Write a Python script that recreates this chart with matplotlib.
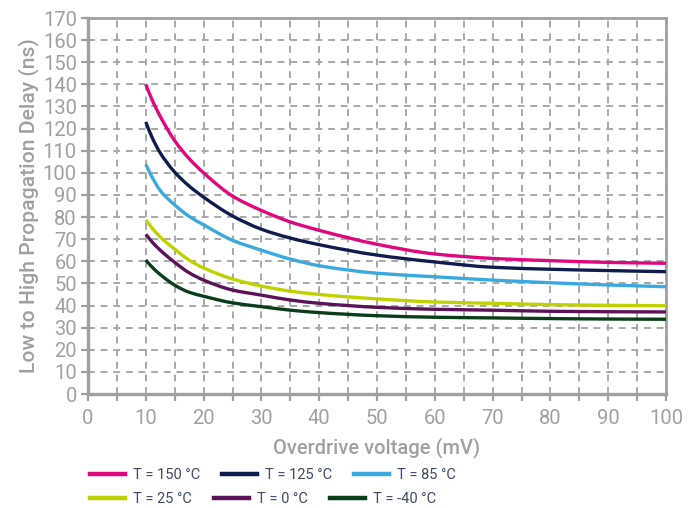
import matplotlib
matplotlib.use("Agg")
import matplotlib.pyplot as plt
import numpy as np
from matplotlib.lines import Line2D
from matplotlib.path import Path
from matplotlib.patches import PathPatch

plt.rcParams['font.family'] = ['Roboto', 'DejaVu Sans']

# Overdrive voltage (mV)
overdrive = [10, 11, 12.5, 15, 17.5, 20, 25, 30, 35, 40, 50, 60, 70, 80, 90, 100]

# Low to high propagation delay (ns) per temperature
delay_150 = [140, 133.5, 125.5, 114.5, 106.4, 100, 89.5, 83, 77.8, 74, 67.7, 63.3, 61.3, 60.3, 59.5, 59.1]
delay_125 = [123, 116.5, 109, 100.3, 94, 89, 80.5, 74.5, 70.5, 67.5, 62.8, 59.7, 57.3, 56.4, 55.8, 55.3]
delay_85 = [103.8, 98.5, 92, 85.5, 80.3, 76.5, 69.5, 65, 61, 58, 54.6, 53, 51.5, 50.3, 49.3, 48.5]
delay_25 = [78.7, 75.3, 71, 65.5, 60.5, 57, 52, 48.8, 46.5, 45, 43, 41.6, 41, 40.4, 40.1, 39.9]
delay_0 = [72.2, 69, 65, 59.5, 54.8, 51.5, 47, 44.7, 42.5, 41, 39.2, 38.3, 37.9, 37.4, 37.2, 37.1]
delay_m40 = [60.6, 57.6, 54, 49.2, 46, 44.2, 41.2, 39.5, 37.9, 36.8, 35.4, 34.7, 34.4, 34.1, 33.9, 33.8]

labels = ["T = 150 °C", "T = 125 °C", "T = 85 °C", "T = 25 °C", "T = 0 °C", "T = -40 °C"]
colors = ["#e0077d", "#0e1d4e", "#39a9df", "#c0d100", "#5c1259", "#0a3e18"]
series = [delay_150, delay_125, delay_85, delay_25, delay_0, delay_m40]

x_ticks = list(range(0, 101, 5))
x_ticklabels = [str(v) if v % 10 == 0 else "" for v in x_ticks]
y_ticks = list(range(0, 171, 10))

gray = "#a0a0a0"


def smooth_path(xs, ys):
    """Monotone cubic (Fritsch-Carlson) Bezier path through the data points."""
    x = np.asarray(xs, float)
    y = np.asarray(ys, float)
    h = np.diff(x)
    d = np.diff(y) / h
    n = len(x)
    m = np.zeros(n)
    m[0] = d[0]
    m[-1] = d[-1]
    for i in range(1, n - 1):
        if d[i - 1] * d[i] <= 0:
            m[i] = 0
        else:
            w1 = 2 * h[i] + h[i - 1]
            w2 = h[i] + 2 * h[i - 1]
            m[i] = (w1 + w2) / (w1 / d[i - 1] + w2 / d[i])
    verts = [(x[0], y[0])]
    codes = [Path.MOVETO]
    for i in range(n - 1):
        verts += [(x[i] + h[i] / 3, y[i] + m[i] * h[i] / 3),
                  (x[i + 1] - h[i] / 3, y[i + 1] - m[i + 1] * h[i] / 3),
                  (x[i + 1], y[i + 1])]
        codes += [Path.CURVE4] * 3
    return Path(verts, codes)


fig = plt.figure(figsize=(6.88, 5.08), dpi=100)
ax = fig.add_axes([88 / 688, 1 - 394 / 508, (666 - 88) / 688, (394 - 18) / 508])

for ys, c in zip(series[::-1], colors[::-1]):
    patch = PathPatch(smooth_path(overdrive, ys), facecolor='none', edgecolor=c,
                      lw=2.4, capstyle='butt', zorder=3, transform=ax.transData)
    ax.add_patch(patch)

ax.set_xlim(0, 100)
ax.set_ylim(0, 170)
ax.set_xticks(x_ticks)
ax.set_xticklabels(x_ticklabels)
ax.set_yticks(y_ticks)

ax.grid(True, color="#a8a8a8", linestyle=(0, (3.5, 3)), linewidth=1.4, zorder=1)
ax.set_axisbelow(True)

for side in ['left', 'bottom']:
    ax.spines[side].set_color(gray)
    ax.spines[side].set_linewidth(2.4)
for side in ['top', 'right']:
    ax.spines[side].set_color(gray)
    ax.spines[side].set_linewidth(2.0)

ax.tick_params(axis='both', colors=gray, labelcolor=gray, labelsize=14.5,
               width=1.6, length=5, direction='out')
ax.tick_params(axis='y', pad=3)
ax.tick_params(axis='x', pad=6)

ax.set_xlabel("Overdrive voltage (mV)", color=gray, fontsize=14.5,
              fontweight='medium', labelpad=6)
ax.set_ylabel("Low to High Propagation Delay (ns)", color=gray, fontsize=15.2,
              fontweight='medium', labelpad=3)

handles = [Line2D([0], [0], color=c, lw=3.2) for c in colors]
leg_kw = dict(frameon=False, ncol=3, fontsize=10.5, handlelength=2.4,
              handletextpad=0.55, columnspacing=1.5, borderpad=0,
              borderaxespad=0, loc='center left', labelcolor="#3d4a68")
leg1 = fig.legend(handles[:3], labels[:3], bbox_to_anchor=(90 / 688, 1 - 475 / 508), **leg_kw)
leg2 = fig.legend(handles[3:], labels[3:], bbox_to_anchor=(90 / 688, 1 - 499 / 508), **leg_kw)

fig.savefig("out.png", dpi=100)
